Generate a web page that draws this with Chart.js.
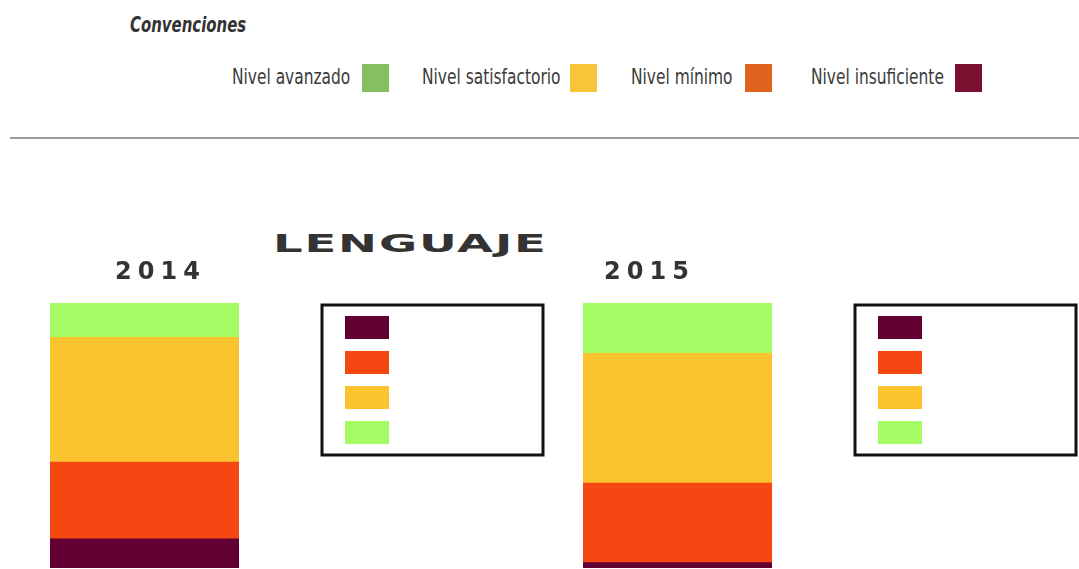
<!DOCTYPE html>
<html>
<head>
<meta charset="utf-8">
<script src="https://cdn.jsdelivr.net/npm/chart.js@4.4.1/dist/chart.umd.min.js"></script>
<style>
  body { margin: 0; background: #fff; width: 1079px; height: 569px; overflow: hidden; position: relative; font-family: "DejaVu Sans Condensed", "Liberation Sans Narrow", sans-serif; }
  .conv { position: absolute; left: 130px; top: 13px; font-size: 21px; font-weight: bold; font-style: italic; color: #333; transform-origin: left top; transform: scaleX(0.79); white-space: nowrap; }
  .txt { position: absolute; top: 64px; font-size: 22px; color: #3a3a3a; transform-origin: left top; transform: scaleX(0.78); white-space: nowrap; }
  .sw { position: absolute; top: 64px; width: 27px; height: 28px; }
  .rule { position: absolute; left: 10px; right: 0; top: 137px; height: 2px; background: #9a9a9a; }
  .title { position: absolute; left: 273px; top: 229px; font-family: "DejaVu Sans", sans-serif; font-weight: bold; font-size: 25px; color: #333; letter-spacing: 1px; transform-origin: left top; transform: scaleX(1.86); white-space: nowrap; }
  .wrap { position: absolute; top: 240px; width: 546px; height: 329px; }
</style>
</head>
<body>
<div class="conv">Convenciones</div>
<div id="legendTop"></div>
<div class="rule"></div>
<div class="title">LENGUAJE</div>
<div class="wrap" style="left:0"><canvas id="chart2014"></canvas></div>
<div class="wrap" style="left:533px"><canvas id="chart2015"></canvas></div>

<script>
// ---- Data ----
const levels = ["Nivel insuficiente", "Nivel mínimo", "Nivel satisfactorio", "Nivel avanzado"];
const barColors = ["#630033", "#f44711", "#fbc42e", "#a5fb64"];
const legendColors = ["#7a0f30", "#e0621c", "#f8c53a", "#85c060"];
const years = ["2014", "2015"];
const values2014 = [11, 29, 47, 13];
const values2015 = [2, 30, 49, 19];

// top legend: text start and swatch start for each level
const textLeft = [811, 631, 422, 232];
const swatchLeft = [955, 745, 570, 362];
const legendHtml = levels.map((name, i) =>
  `<div class="txt" style="left:${textLeft[i]}px">${name}</div>` +
  `<div class="sw" style="left:${swatchLeft[i]}px;background:${legendColors[i]}"></div>`
);
document.getElementById("legendTop").innerHTML = legendHtml.join("");

// boxed swatch list drawn next to each bar
const legendBox = {
  id: "legendBox",
  beforeDraw(chart) { chart.ctx.letterSpacing = "6px"; },
  afterDraw(chart) {
    const ctx = chart.ctx;
    ctx.letterSpacing = "0px";
    const x0 = chart.chartArea.right + 83;
    const y0 = 65;
    ctx.save();
    ctx.strokeStyle = "#111";
    ctx.lineWidth = 3;
    ctx.strokeRect(x0, y0, 221, 150);
    chart.data.datasets.forEach((ds, i) => {
      ctx.fillStyle = ds.backgroundColor;
      ctx.fillRect(x0 + 23, y0 + 11 + i * 35, 44, 23);
    });
    ctx.restore();
  }
};

function makeChart(id, year, values, labelShift) {
  const ctx = document.getElementById(id).getContext("2d");
  return new Chart(ctx, {
    type: "bar",
    data: {
      labels: [year],
      datasets: levels.map((name, i) => ({
        label: name,
        data: [values[i]],
        backgroundColor: barColors[i],
        borderWidth: 0,
        barPercentage: 1,
        categoryPercentage: 1
      }))
    },
    options: {
      responsive: true,
      maintainAspectRatio: false,
      animation: false,
      layout: { padding: { left: 50, right: 307, top: 0, bottom: 1 } },
      plugins: { legend: { display: false }, tooltip: { enabled: false } },
      scales: {
        x: {
          position: "top",
          stacked: true,
          grid: { display: false },
          border: { display: false },
          ticks: {
            color: "#333",
            padding: 8,
            labelOffset: labelShift,
            font: { family: "DejaVu Sans", weight: "bold", size: 24 }
          },
          afterFit: (s) => { s.height = 63; }
        },
        y: { stacked: true, display: false, min: 0, max: 100 }
      }
    },
    plugins: [legendBox]
  });
}

makeChart("chart2014", years[0], values2014, 16);
makeChart("chart2015", years[1], values2015, -28);
</script>
</body>
</html>
